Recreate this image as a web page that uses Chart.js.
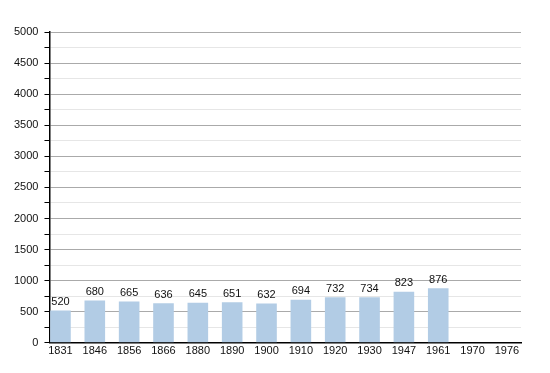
<!DOCTYPE html>
<html>
<head>
<meta charset="utf-8">
<script src="https://cdn.jsdelivr.net/npm/chart.js@4"></script>
<style>
  html, body { margin: 0; padding: 0; background: #fff; }
  #wrap { width: 550px; height: 373px; }
</style>
</head>
<body>
<div id="wrap"><canvas id="pop"></canvas></div>
<script>
(function(){
    var annees = ['1831','1846','1856','1866','1880','1890','1900','1910','1920','1930','1947','1961','1970','1976'];
    var habitants = [520, 680, 665, 636, 645, 651, 632, 694, 732, 734, 823, 876, null, null];

    // labels above the bars
    const valeurs = {
        id: 'valeurs',
        afterDatasetsDraw(chart) {
            const ctx = chart.ctx;
            const meta = chart.getDatasetMeta(0);
            ctx.save();
            ctx.font = '11px "Liberation Sans", Arial, sans-serif';
            ctx.fillStyle = '#111';
            ctx.textAlign = 'center';
            ctx.textBaseline = 'bottom';
            meta.data.forEach(function(bar, i) {
                if (habitants[i] == null) return;
                ctx.fillText(habitants[i], bar.x, bar.y - 3);
            });
            ctx.restore();
        }
    };

    const config = {
        type: 'bar',
        data: {
            datasets: [{
                data: habitants.map(function(v, i) { return { x: i, y: v }; }),
                backgroundColor: 'rgb(178, 204, 229)',
                categoryPercentage: 0.6,
                barPercentage: 1
            }]
        },
        options: {
            responsive: true,
            maintainAspectRatio: false,
            animation: false,
            layout: { padding: { top: 32, right: 29, bottom: 13, left: 8 } },
            plugins: { legend: { display: false }, tooltip: { enabled: false } },
            scales: {
                x: {
                    type: 'linear',
                    offset: false,
                    min: -0.32,
                    max: 13.41,
                    afterBuildTicks: function(scale) {
                        scale.ticks = annees.map(function(a, i) { return { value: i }; });
                    },
                    grid: { display: false, drawTicks: false, offset: false },
                    border: { display: true, color: '#000', width: 1.5 },
                    ticks: {
                        color: '#111',
                        font: { family: 'Liberation Sans', size: 11 },
                        maxRotation: 0,
                        autoSkip: false,
                        padding: 2,
                        callback: function(value) { return annees[value]; }
                    }
                },
                y: {
                    min: 0,
                    max: 5000,
                    border: { display: true, color: '#000', width: 1.5 },
                    grid: {
                        color: function(c) { return c.tick.value % 500 === 0 ? '#aaaaaa' : '#e6e6e6'; },
                        tickColor: '#000',
                        tickLength: 5,
                        drawTicks: true
                    },
                    ticks: {
                        stepSize: 250,
                        autoSkip: false,
                        color: '#111',
                        font: { family: 'Liberation Sans', size: 11 },
                        padding: 6,
                        callback: function(value) { return value % 500 === 0 ? value : ''; }
                    }
                }
            }
        },
        plugins: [valeurs]
    };

    new Chart(document.getElementById('pop'), config);
})();
</script>
</body>
</html>
